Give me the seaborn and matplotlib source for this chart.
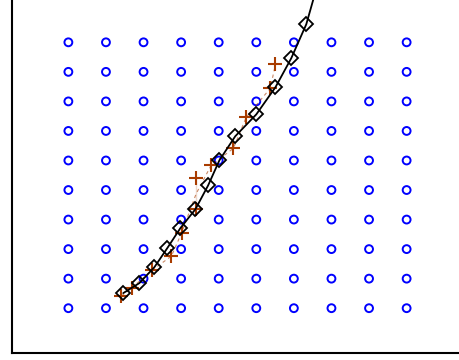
import numpy as np
import pandas as pd
import matplotlib
matplotlib.use("Agg")
import matplotlib.pyplot as plt
import seaborn as sns

# regular grid of sample points
grid_x = [1, 2, 3, 4, 5, 6, 7, 8, 9, 10]
grid_y = [1, 2, 3, 4, 5, 6, 7, 8, 9, 10]

# black path with diamond markers (last point lies above the visible area)
path_x = [2.46, 2.89, 3.29, 3.63, 3.98, 4.38, 4.72, 5.02, 5.44, 6.00, 6.51, 6.93, 7.33, 7.60]
path_y = [1.51, 1.85, 2.39, 3.03, 3.71, 4.35, 5.16, 6.01, 6.82, 7.56, 8.48, 9.46, 10.61, 11.82]

# orange traced points
trace_x = [2.41, 2.68, 3.23, 3.74, 4.01, 4.40, 4.40, 4.80, 5.39, 5.73, 6.37, 6.51]
trace_y = [1.41, 1.68, 2.29, 2.76, 3.54, 4.35, 5.40, 5.84, 6.41, 7.46, 8.44, 9.25]

sns.set_style("white")

fig = plt.figure(figsize=(4.59, 3.6), dpi=100)
ax = fig.add_axes([12 / 459, 7.5 / 360, 451 / 459, 354.5 / 360])

gx, gy = np.meshgrid(grid_x, grid_y)
grid = pd.DataFrame({"x": gx.ravel(), "y": gy.ravel()})
sns.scatterplot(data=grid, x="x", y="y", ax=ax, marker="o", s=32,
                facecolors="none", edgecolor="#0000ff", linewidth=1.4, zorder=2)

trace = pd.DataFrame({"x": trace_x, "y": trace_y})
sns.lineplot(data=trace, x="x", y="y", ax=ax, sort=False, color="#a83c00",
             linewidth=0.8, linestyle=(0, (3, 3)), alpha=0.6, zorder=3)
ax.plot(trace_x, trace_y, linestyle="none", marker="+", markersize=10,
        markeredgewidth=1.5, color="#a83c00", zorder=4)

path = pd.DataFrame({"x": path_x, "y": path_y})
sns.lineplot(data=path, x="x", y="y", ax=ax, sort=False, color="black",
             linewidth=1.3, marker="D", markersize=7.5, markerfacecolor="none",
             markeredgecolor="black", markeredgewidth=1.3, zorder=5)

ax.set_xlim(-0.5, 11.5)
ax.set_ylim(-0.5, 11.5)
ax.set_xticks([])
ax.set_yticks([])
ax.set_xlabel("")
ax.set_ylabel("")
for side in ["top", "right"]:
    ax.spines[side].set_visible(False)
for side in ["left", "bottom"]:
    ax.spines[side].set_color("black")
    ax.spines[side].set_linewidth(1.5)

fig.savefig("out.png", dpi=100)
